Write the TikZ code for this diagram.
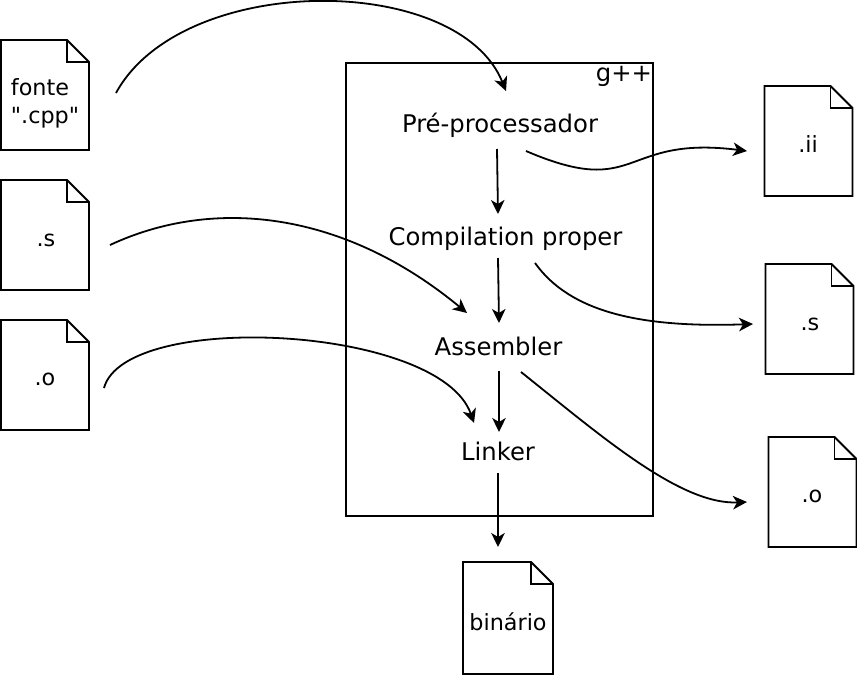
\documentclass[tikz,border=0pt]{standalone}
\usepackage{fontspec}
\newfontfamily\plainfont{DejaVu Sans}
\setmainfont{DejaVu Sans}
\usetikzlibrary{arrows.meta}
\tikzset{
  line/.style={line width=1.8pt,black},
  flow/.style={line,-{Stealth[length=14pt,width=13.5pt,inset=4pt]}},
  stagelabel/.style={font=\plainfont\fontsize{24.3}{28}\selectfont,inner sep=0pt,anchor=center},
  filelabel/.style={font=\plainfont\fontsize{22.3}{28}\selectfont,inner sep=0pt,anchor=center,align=left},
}
% name, left, top, width, height
\newcommand{\filebox}[5]{%
  \coordinate (#1) at (#2+#4/2,#3+#5/2);
  \draw[line,line join=miter] (#2,#3) -- (#2+#4-22,#3) -- (#2+#4,#3+22) -- (#2+#4,#3+#5) -- (#2,#3+#5) -- cycle;
  \draw[line,line join=miter] (#2+#4-22,#3) -- (#2+#4-22,#3+22) -- (#2+#4,#3+22);
}
\begin{document}
\begin{tikzpicture}[x=1pt,y=-1pt]
\useasboundingbox (0,0) rectangle (857,675);
\draw[line] (346,63) rectangle (653,516);
\filebox{f1}{1}{40}{88}{110}
\filebox{f2}{1}{180}{88}{110}
\filebox{f3}{1}{320}{88}{110}
\filebox{f4}{764.5}{86}{88}{110}
\filebox{f5}{765.5}{264}{88}{110}
\filebox{f6}{768.5}{437}{88}{110}
\filebox{f7}{463}{562}{90}{112}
\node[filelabel] (t1) at (45,103) {fonte\\".cpp"};
\node[filelabel] (t2) at (46,240) {.s};
\node[filelabel] (t3) at (45,379) {.o};
\node[filelabel] (t4) at (808,144) {.ii};
\node[filelabel] (t5) at (810,324.5) {.s};
\node[filelabel] (t6) at (812,496) {.o};
\node[filelabel] (t7) at (508,622) {binário};
\node[stagelabel] (g) at (624,76) {g++};
\node[stagelabel] (pre) at (500,125.5) {Pré-processador};
\node[stagelabel] (comp) at (505.5,239) {Compilation proper};
\node[stagelabel] (asm) at (498.5,346.5) {Assembler};
\node[stagelabel] (link) at (498,451) {Linker};
\draw[flow] (497,149) -- (498,214);
\draw[flow] (498,258) -- (499,323);
\draw[flow] (499,371) -- (499,432);
\draw[flow] (498,473) -- (498,547);
\draw[flow] (116,93) .. controls (182,-28) and (458,-28) .. (506,91);
\draw[flow] (110,245) .. controls (215,196) and (345,212) .. (467,313);
\draw[flow] (104,388) .. controls (125,310) and (440,325) .. (474,423);
\draw[flow] (526,151) .. controls (640,200) and (620,135) .. (747,151);
\draw[flow] (535,263) .. controls (570,312) and (640,328) .. (753,324);
\draw[flow] (521,372) .. controls (600,435) and (680,505) .. (747,502);
\end{tikzpicture}
\end{document}
